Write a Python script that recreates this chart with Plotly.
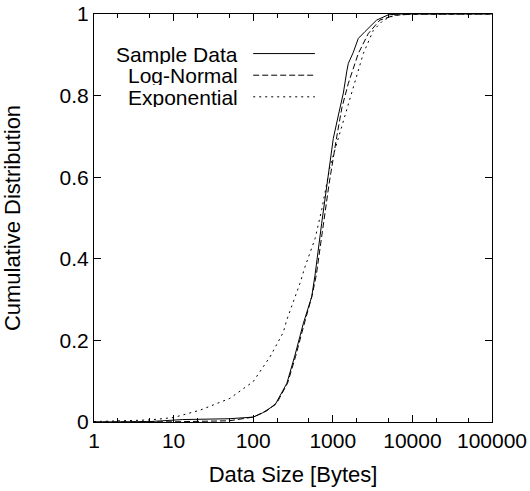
import plotly.graph_objects as go

# ---- data ----
sample_x = [1, 5, 13, 50, 100, 130, 188, 265, 335, 427, 543, 598, 725, 879, 1015,
            1200, 1356, 1500, 1567, 1800, 2090, 2540, 3550, 4980, 7000, 100000]
sample_y = [0, 0.001, 0.006, 0.008, 0.012, 0.022, 0.042, 0.095, 0.164, 0.242, 0.307,
            0.36, 0.487, 0.601, 0.695, 0.76, 0.806, 0.86, 0.879, 0.905, 0.94, 0.957,
            0.985, 0.998, 1.0, 1.0]

lognorm_x = [1, 10, 50, 100, 150, 200, 270, 340, 430, 550, 620, 750, 900, 1120,
             1300, 1567, 2090, 2790, 3900, 6000, 10000, 100000]
lognorm_y = [0, 0.0005, 0.003, 0.012, 0.028, 0.048, 0.095, 0.16, 0.235, 0.31, 0.36,
             0.475, 0.585, 0.699, 0.77, 0.83, 0.903, 0.952, 0.985, 0.997, 0.9995, 1.0]

expo_x = [1, 5, 10, 21.5, 51, 100, 163, 239, 264, 387, 447, 600, 725, 922, 1150,
          1810, 2415, 3230, 4330, 6000, 10000, 100000]
expo_y = [0.001, 0.005, 0.011, 0.029, 0.058, 0.099, 0.16, 0.22, 0.25, 0.34, 0.38,
          0.45, 0.52, 0.626, 0.69, 0.82, 0.903, 0.96, 0.985, 0.997, 1.0, 1.0]

series_names = ["Sample Data", "Log-Normal", "Exponential"]
series_dash = ["solid", "6px,3px", "2px,4px"]

x_tickvals = [1, 10, 100, 1000, 10000, 100000]
x_ticktext = ["1", "10", "100", "1000", "10000", "100000"]
y_tickvals = [0, 0.2, 0.4, 0.6, 0.8, 1]
y_ticktext = ["0", "0.2", "0.4", "0.6", "0.8", "1"]

FONT = "Liberation Sans, Arial, Helvetica, sans-serif"

fig = go.Figure()
for name, xs, ys, dash in zip(series_names,
                              [sample_x, lognorm_x, expo_x],
                              [sample_y, lognorm_y, expo_y],
                              series_dash):
    fig.add_trace(go.Scatter(x=xs, y=ys, mode="lines", name=name,
                             line=dict(color="black", width=1, dash=dash),
                             showlegend=False))

# gnuplot-style legend: right-aligned text followed by line sample
leg_y = [0.903, 0.850, 0.797]
for name, dash, yy in zip(series_names, series_dash, leg_y):
    fig.add_annotation(x=0.364, y=yy, xref="paper", yref="paper", text=name,
                       showarrow=False, xanchor="right", yanchor="middle",
                       height=20, valign="middle", borderpad=0,
                       font=dict(family=FONT, size=21, color="black"))
    fig.add_shape(type="line", xref="paper", yref="paper",
                  x0=0.40, x1=0.555, y0=yy, y1=yy,
                  line=dict(color="black", width=1, dash=dash))

axis_common = dict(showline=True, linecolor="black", linewidth=1, mirror="ticks",
                   ticks="inside", tickcolor="black", ticklen=7, tickwidth=1,
                   showgrid=False, zeroline=False, automargin=False,
                   ticklabeloverflow="allow",
                   tickfont=dict(family=FONT, size=21, color="black"))

fig.update_xaxes(type="log", range=[0, 5], tickvals=x_tickvals, ticktext=x_ticktext,
                 minor=dict(ticks="inside", dtick="D2", ticklen=4, tickcolor="black",
                            showgrid=False),
                 title=dict(text="Data Size [Bytes]",
                            font=dict(family=FONT, size=22, color="black"), standoff=15),
                 **axis_common)
fig.update_yaxes(range=[0, 1], tickvals=y_tickvals, ticktext=y_ticktext,
                 title=dict(text="Cumulative Distribution",
                            font=dict(family=FONT, size=22, color="black"), standoff=43),
                 **axis_common)

fig.update_layout(width=530, height=491, margin=dict(l=94, r=38, t=14, b=69),
                  paper_bgcolor="white", plot_bgcolor="white",
                  font=dict(family=FONT, size=20, color="black"))

# remove the page's default body margin so the figure fills the window exactly
fig.write_html("out.html",
               config={"displayModeBar": False, "staticPlot": True},
               post_script="document.body.style.margin='0';"
                           "document.body.style.overflow='hidden';")
